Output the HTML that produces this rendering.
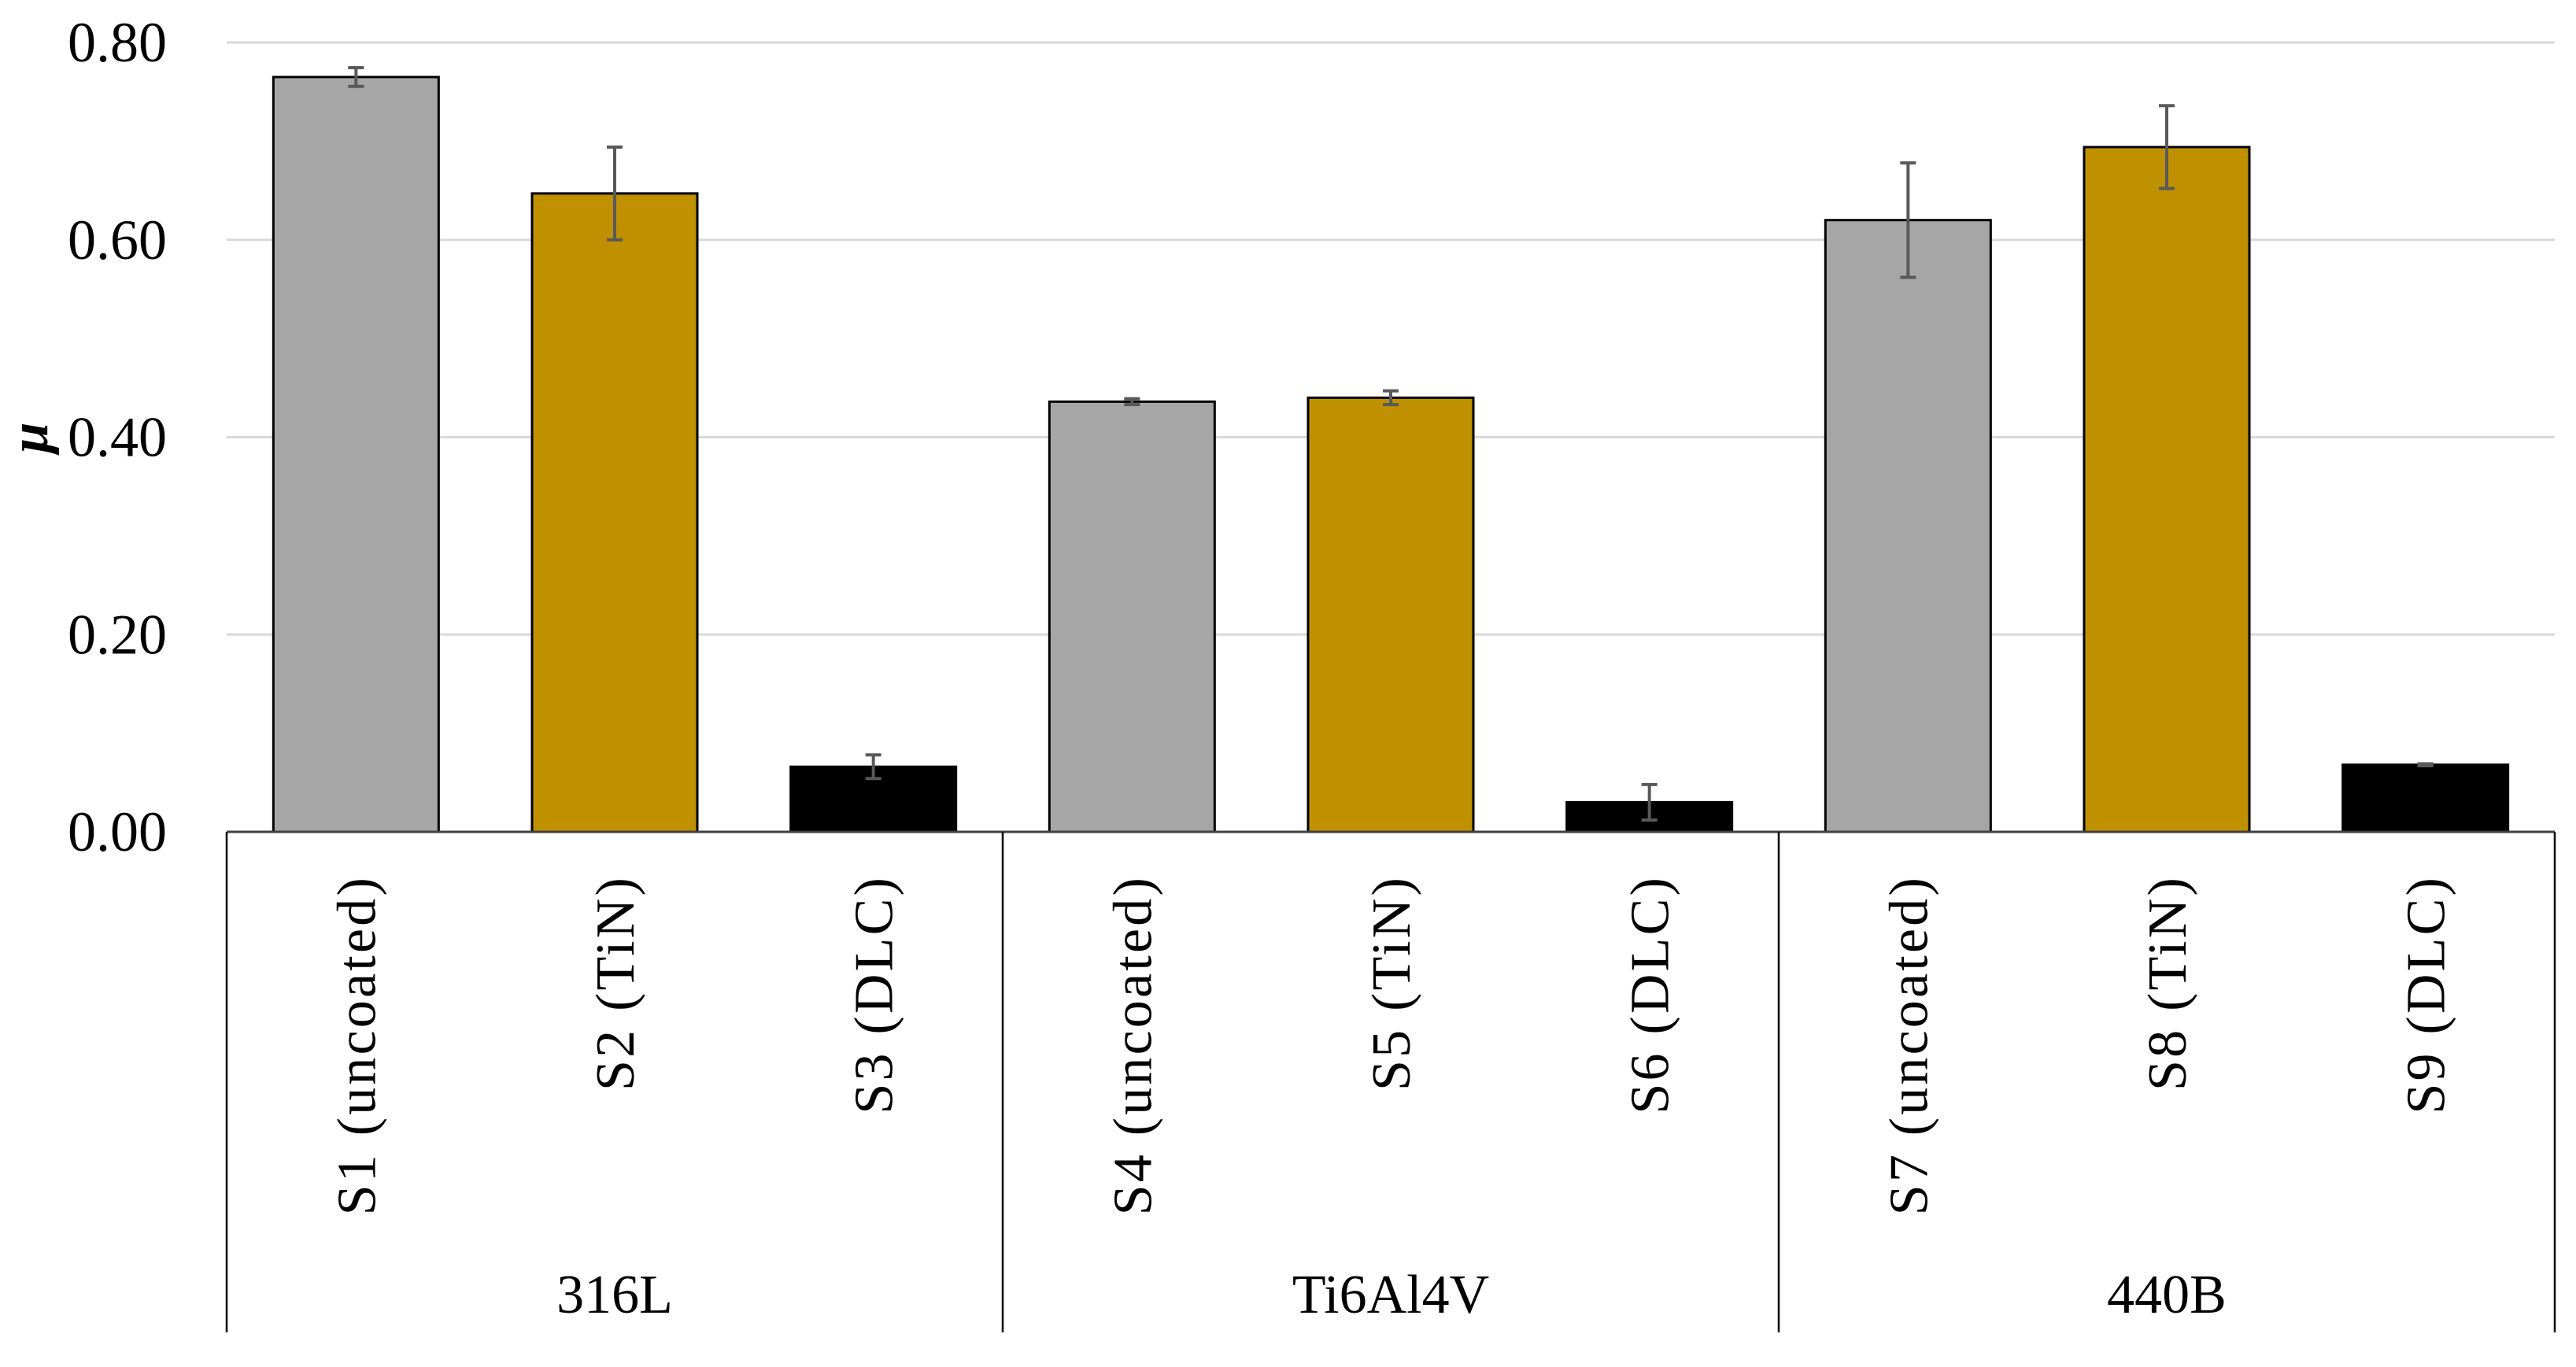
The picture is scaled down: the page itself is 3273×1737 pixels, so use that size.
<!DOCTYPE html>
<html><head><meta charset="utf-8"><style>
html,body{margin:0;padding:0;background:#fff;}
svg{display:block;font-family:"Liberation Serif",serif;}
</style></head><body>
<svg id="chart" width="3273" height="1737" viewBox="0 0 3273 1737" xmlns="http://www.w3.org/2000/svg">
<rect x="0" y="0" width="3273" height="1737" fill="#fff"/>
<g id="grid"></g><g id="bars"></g><g id="errs"></g><g id="axes"></g><g id="labels"></g>
<text x="0" y="0" transform="translate(60,556) rotate(-90)" text-anchor="middle" font-size="70" font-weight="bold" font-style="italic">μ</text>
</svg>
<script>
const categories = ["S1 (uncoated)","S2 (TiN)","S3 (DLC)","S4 (uncoated)","S5 (TiN)","S6 (DLC)","S7 (uncoated)","S8 (TiN)","S9 (DLC)"];
const values = [0.765,0.647,0.066,0.436,0.440,0.030,0.620,0.694,0.068];
const errors = [0.0095,0.047,0.012,0.003,0.007,0.018,0.058,0.042,0.001];
const coatings = ["uncoated","TiN","DLC","uncoated","TiN","DLC","uncoated","TiN","DLC"];
const groups = ["316L","Ti6Al4V","440B"];
const yTicks = [0,0.2,0.4,0.6,0.8];
const yTickLabels = ["0.00","0.20","0.40","0.60","0.80"];

const NS="http://www.w3.org/2000/svg";
const L=288,R=3246,Y0=1057,Ytop=54;
const ymax=0.8;
const y=v=>Y0-(v/ymax)*(Y0-Ytop);
const step=(R-L)/categories.length;
const xc=i=>L+step*(i+0.5);
const bw=210;
const colors={uncoated:"#a6a6a6",TiN:"#bf9000",DLC:"#000000"};
function mk(t,a,p){const e=document.createElementNS(NS,t);for(const k in a)e.setAttribute(k,a[k]);p.appendChild(e);return e;}
const G=document.getElementById('grid'),B=document.getElementById('bars'),E=document.getElementById('errs'),A=document.getElementById('axes'),T=document.getElementById('labels');
yTicks.forEach((v,i)=>{
  if(v>0){const g=mk('line',{x1:L,x2:R,y1:y(v),y2:y(v),stroke:'#d9d9d9','stroke-width':3},G);
  
  }
  const t=mk('text',{x:212,y:y(v)+24,'text-anchor':'end','font-size':72,fill:'#000'},T);
  t.textContent=yTickLabels[i];
  
  
});
values.forEach((v,i)=>{
  const r=mk('rect',{x:xc(i)-bw/2,y:y(v),width:bw,height:Y0-y(v),fill:colors[coatings[i]],stroke:'#000','stroke-width':3},B);
  
  
  const e=errors[i],x=xc(i);
  const eg=mk('g',{stroke:'#595959','stroke-width':4},E);
  
  
  mk('line',{x1:x,x2:x,y1:y(v+e),y2:y(v-e)},eg);
  mk('line',{x1:x-10,x2:x+10,y1:y(v+e),y2:y(v+e)},eg);
  mk('line',{x1:x-10,x2:x+10,y1:y(v-e),y2:y(v-e)},eg);
  const t=mk('text',{x:0,y:0,transform:`translate(${x+24},1112) rotate(-90)`,'text-anchor':'end','font-size':70,'letter-spacing':3.2,fill:'#000'},T);
  t.textContent=categories[i];
  
  
});
const ax=mk('line',{x1:L,x2:R,y1:Y0,y2:Y0,stroke:'#404040','stroke-width':3},A);


for(let g=0;g<=groups.length;g++){
  const gx=L+step*3*g;
  const d=mk('line',{x1:gx,x2:gx,y1:Y0,y2:1693,stroke:'#000','stroke-width':2.5},A);
  
  
  if(g<groups.length){
    const t=mk('text',{x:gx+step*1.5,y:1668,'text-anchor':'middle','font-size':70,fill:'#000'},T);
    t.textContent=groups[g];
    
    
  }
}
</script>
</body></html>
